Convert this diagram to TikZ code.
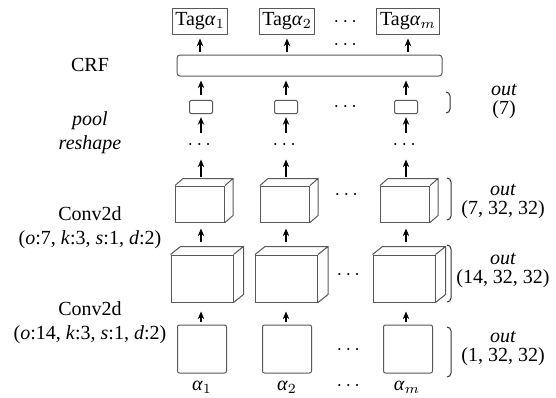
\documentclass[tikz,border=0pt]{standalone}
\usepackage{fontspec}
\setmainfont{Liberation Serif}
\usepackage{amsmath}
\usetikzlibrary{arrows.meta}

% top and side faces of a box drawn on a front node
\newcommand{\cubefaces}[3]{%
  \draw[boxline] (#1.north west) -- ++(#2,-#3) -- ([shift={(#2,-#3)}]#1.north east)
    -- ([shift={(#2,-#3)}]#1.south east) -- (#1.south east)
    (#1.north east) -- ++(#2,-#3);}
\newcommand{\al}[1]{\textit{α}$_{#1}$}

\begin{document}
\begin{tikzpicture}[x=0.5pt,y=-0.5pt,>={Stealth[length=3.8pt,width=3.2pt]},
  boxline/.style={draw=black!65,line width=0.5pt},
  tagbox/.style={boxline,inner sep=1.6pt,minimum height=13pt},
  crfbox/.style={boxline,rounded corners=1.5pt,minimum width=132.5pt,minimum height=10.5pt},
  poolbox/.style={boxline,rounded corners=1pt,minimum width=11.5pt,minimum height=5pt},
  smallcube/.style={boxline,minimum width=24.5pt,minimum height=18pt},
  bigcube/.style={boxline,minimum width=31pt,minimum height=23.5pt},
  inbox/.style={boxline,rounded corners=1pt,minimum width=24.5pt,minimum height=24pt},
  flow/.style={->,line width=0.6pt},
  side/.style={align=center,inner sep=0pt},
  size/.style={side,font=\fontsize{10}{9.5}\selectfont}]
  \useasboundingbox (0,0) rectangle (556,397);

  % output tags
  \node[tagbox] (tag1) at (200,21) {Tag\al{1}};
  \node[tagbox] (tag2) at (287,21) {Tag\al{2}};
  \node[tagbox] (tagm) at (408,21) {Tag\al{m}};
  \node (tdots) at (347,22) {$\cdots$};
  \node (tdots2) at (347,45) {$\cdots$};

  \node[crfbox] (crf) at (309.5,65.5) {};

  % pool + reshape
  \node[poolbox] (pool1) at (201,107) {};
  \node[poolbox] (pool2) at (286,107) {};
  \node[poolbox] (poolm) at (406,107) {};
  \node (pdots) at (347,107) {$\cdots$};

  \node (d1) at (201,145) {$\cdots$};
  \node (d2) at (286,145) {$\cdots$};
  \node (dm) at (406,145) {$\cdots$};

  % second conv output
  \node[smallcube] (ca1) at (200,204) {};
  \node[smallcube] (ca2) at (285,204) {};
  \node[smallcube] (cam) at (405,204) {};
  \cubefaces{ca1}{8}{7}
  \cubefaces{ca2}{8}{7}
  \cubefaces{cam}{8}{7}
  \node (cadots) at (348,195) {$\cdots$};

  % first conv output
  \node[bigcube] (cb1) at (202,278.5) {};
  \node[bigcube] (cb2) at (286.5,278.5) {};
  \node[bigcube] (cbm) at (404,278.5) {};
  \cubefaces{cb1}{10}{8}
  \cubefaces{cb2}{10}{8}
  \cubefaces{cbm}{10}{8}
  \node (cbdots) at (350,275) {$\cdots$};

  % inputs
  \node[inbox] (in1) at (202,349) {};
  \node[inbox] (in2) at (287,349) {};
  \node[inbox] (inm) at (408,349) {};
  \node (indots) at (350,350) {$\cdots$};

  \node (a1) at (202,387) {\al{1}};
  \node (a2) at (287,387) {\al{2}};
  \node (am) at (407,387) {\al{m}};
  \node (adots) at (350,386) {$\cdots$};

  % arrows
  \draw[flow,shorten <=1.5pt,shorten >=2pt] (crf.north -| tag1) -- (tag1);
  \draw[flow,shorten <=1.5pt,shorten >=2pt] (crf.north -| tag2) -- (tag2);
  \draw[flow,shorten <=1.5pt,shorten >=2pt] (crf.north -| tagm) -- (tagm);
  \draw[flow,shorten <=2.5pt,shorten >=2pt] (pool1) -- (pool1 |- crf.south);
  \draw[flow,shorten <=2.5pt,shorten >=2pt] (pool2) -- (pool2 |- crf.south);
  \draw[flow,shorten <=2.5pt,shorten >=2pt] (poolm) -- (poolm |- crf.south);
  \draw[flow,shorten <=0pt,shorten >=1.5pt] (d1) -- (pool1);
  \draw[flow,shorten <=0pt,shorten >=1.5pt] (d2) -- (pool2);
  \draw[flow,shorten <=0pt,shorten >=1.5pt] (dm) -- (poolm);
  \draw[flow,shorten >=1.5pt] ([yshift=4.5pt]ca1.north -| d1) -- (d1);
  \draw[flow,shorten >=1.5pt] ([yshift=4.5pt]ca2.north -| d2) -- (d2);
  \draw[flow,shorten >=1.5pt] ([yshift=4.5pt]cam.north -| dm) -- (dm);
  \draw[flow,shorten >=3pt] ([yshift=6.5pt]cb1.north -| d1) -- (ca1.south -| d1);
  \draw[flow,shorten >=3pt] ([yshift=6.5pt]cb2.north -| d2) -- (ca2.south -| d2);
  \draw[flow,shorten >=3pt] ([yshift=6.5pt]cbm.north -| dm) -- (cam.south -| dm);
  \draw[flow,shorten <=1.5pt,shorten >=4.5pt] (in1.north -| d1) -- (cb1.south -| d1);
  \draw[flow,shorten <=1.5pt,shorten >=4.5pt] (in2.north -| d2) -- (cb2.south -| d2);
  \draw[flow,shorten <=1.5pt,shorten >=4.5pt] (inm.north -| dm) -- (cbm.south -| dm);

  % left labels
  \node[side] (lcrf) at (90,65) {CRF};
  \node[side] (lpool) at (90,133) {\textit{pool}\\\textit{reshape}};
  \node[side] (lconva) at (90,228) {Conv2d\\(\textit{o}:7, \textit{k}:3, \textit{s}:1, \textit{d}:2)};
  \node[side] (lconvb) at (90,323) {Conv2d\\(\textit{o}:14, \textit{k}:3, \textit{s}:1, \textit{d}:2)};

  % right braces and sizes
  \draw[boxline,black!80] (446,92) to[out=0,in=90] (450,96) -- (450,109) to[out=-90,in=0] (446,113);
  \draw[boxline,black!80] (447,178) to[out=0,in=90] (451,182) -- (451,216) to[out=-90,in=0] (447,220);
  \draw[boxline,black!80] (447,245) to[out=0,in=90] (451,249) -- (451,298) to[out=-90,in=0] (447,302);
  \draw[boxline,black!80] (447,327) to[out=0,in=90] (451,331) -- (451,373) to[out=-90,in=0] (447,377);
  \node[size] (opool) at (504,101) {\textit{out}\\(7)};
  \node[size] (oca) at (503,201) {\textit{out}\\(7, 32, 32)};
  \node[size] (ocb) at (503,270) {\textit{out}\\(14, 32, 32)};
  \node[size] (oin) at (503,348) {\textit{out}\\(1, 32, 32)};
\end{tikzpicture}
\end{document}
